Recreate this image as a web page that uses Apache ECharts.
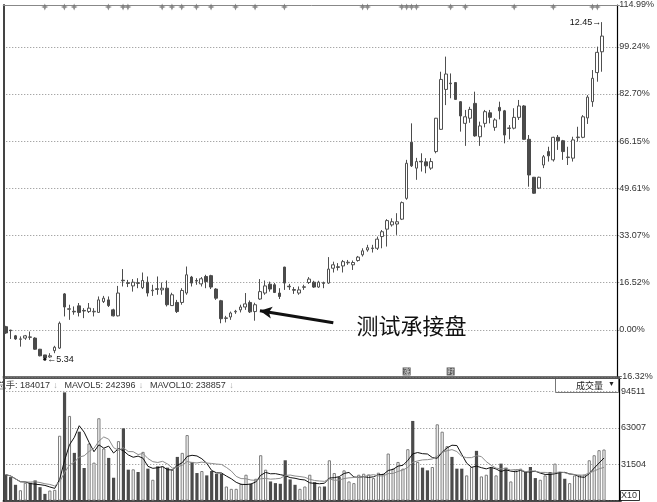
<!DOCTYPE html>
<html><head><meta charset="utf-8">
<script src="https://cdn.jsdelivr.net/npm/echarts@6/dist/echarts.min.js"></script>
<style>html,body{margin:0;padding:0;background:#fff}#c{width:657px;height:502px}</style>
</head><body><div id="c"></div>
<script>
// ---- data (percent change vs. base) ----
const opens  = [1.1,-0.1,-2.1,-3.3,-2.9,-2.5,-2.9,-6.8,-8.8,-9.5,-7.3,-6.4,12.6,7.2,6.5,8.4,6.8,6.4,6.3,6.1,9.9,10.5,7.0,4.9,17.4,16.5,15.4,16.5,14.8,16.7,13.7,14.4,14.0,14.6,8.5,9.6,9.6,12.9,18.5,17.3,16.1,18.7,19.0,14.3,10.2,4.0,4.5,6.3,7.0,8.0,9.6,6.4,10.8,12.9,16.0,15.8,12.9,22.0,15.3,14.1,12.9,14.9,16.6,16.7,15.0,16.5,16.4,21.6,22.1,22.4,23.5,22.8,24.3,26.3,28.0,28.5,28.6,32.7,35.3,36.8,37.1,38.8,46.1,65.8,56.7,59.1,58.9,56.7,62.5,70.3,84.3,86.5,86.7,80.0,72.4,74.2,79.4,67.7,72.4,76.1,71.0,78.0,76.8,70.6,70.7,74.5,78.5,66.8,53.5,49.7,57.8,62.5,59.6,67.5,66.3,60.4,60.2,67.4,67.5,74.3,80.0,90.2,97.5];
const closes = [-1.1,-0.3,-3.2,-3.2,-2.1,-2.6,-6.8,-9.1,-9.9,-9.1,-6.1,2.3,8.0,7.4,6.3,6.1,6.6,7.6,6.5,10.5,11.1,8.5,4.9,12.9,17.2,16.3,16.7,16.3,17.3,12.9,13.9,14.2,14.6,8.8,12.3,6.4,13.8,19.3,16.4,17.1,17.9,16.9,15.0,11.1,3.9,4.2,5.9,6.5,8.0,9.1,6.3,8.8,13.4,15.4,14.3,13.1,11.7,16.4,15.1,13.9,14.0,15.1,17.8,15.0,16.7,16.3,21.3,22.8,21.9,23.9,23.7,23.6,25.5,27.7,28.8,28.7,31.8,34.4,38.3,37.9,37.9,44.6,58.4,57.5,59.0,58.9,57.5,59.0,74.2,87.8,89.7,86.3,80.8,75.0,74.7,77.3,68.0,71.5,76.5,74.5,73.6,76.8,68.3,70.8,74.5,78.5,66.8,54.3,47.9,53.5,60.7,61.0,67.5,66.3,62.5,60.6,66.6,67.6,74.7,81.6,88.2,97.3,103.0];
const lows   = [-1.4,-3.2,-3.5,-5.9,-3.5,-3.5,-7.0,-9.3,-10.3,-9.8,-8.2,-6.7,4.7,3.5,5.3,4.7,4.1,5.9,4.7,6.0,9.4,8.0,4.7,4.7,15.2,15.0,13.4,14.6,14.3,11.7,11.9,12.3,12.3,8.2,8.4,5.9,8.8,12.3,15.2,15.8,15.2,14.6,14.3,10.5,2.3,2.6,3.5,5.6,6.1,7.0,5.9,3.2,10.5,12.3,13.4,12.9,10.8,14.0,14.0,12.6,12.3,14.0,16.1,14.7,14.7,14.6,16.1,20.1,20.8,20.1,22.8,21.0,23.9,25.7,27.4,27.1,28.0,28.6,29.2,36.2,33.3,38.5,45.6,57.1,52.6,55.5,54.9,56.1,61.9,70.1,78.8,81.2,80.6,69.5,64.5,72.6,67.7,64.5,71.0,72.4,69.8,73.8,65.4,66.8,70.3,73.6,66.6,50.2,47.7,49.4,56.7,59.0,59.0,63.1,59.6,57.8,59.0,66.0,67.2,72.2,78.2,87.0,90.5];
const highs  = [1.4,0.0,-1.8,-2.3,-1.8,-0.6,-2.6,-6.7,-8.8,-8.2,-5.6,2.9,12.9,8.8,8.2,9.4,7.6,9.4,7.6,11.7,11.9,11.7,7.4,15.4,21.3,17.5,17.8,18.1,20.1,18.7,15.8,18.7,16.6,17.3,13.0,10.5,14.6,22.2,18.9,18.1,18.5,19.3,19.3,14.6,10.5,4.9,6.4,7.0,8.8,12.9,10.3,9.5,17.8,17.3,16.9,16.4,14.6,22.1,16.1,15.0,15.2,15.8,18.5,17.2,17.2,16.9,25.5,23.9,23.4,24.5,24.5,24.3,25.9,28.6,29.8,29.8,32.7,35.0,38.8,39.1,40.9,45.0,59.6,72.4,60.3,61.9,60.2,60.2,74.3,90.5,95.8,89.9,86.8,80.2,77.1,78.2,83.5,73.0,77.1,77.1,74.2,80.0,77.1,71.8,77.7,80.6,78.8,68.3,53.6,53.7,61.3,64.2,67.7,68.3,66.6,64.2,67.7,71.2,75.3,82.3,91.1,99.3,107.9];
const volumes = [22460,20420,13710,9000,15460,15460,17500,11670,5830,8750,9330,56300,93930,73510,41420,59800,28300,49590,32960,71470,45210,37050,19840,51630,62720,26840,27130,24800,42300,27710,18090,29750,29750,28590,26840,37920,41420,56880,33550,23920,25670,21880,25670,23340,23340,12250,10210,10210,14590,22460,14590,18960,39380,26840,16630,15170,14590,35000,18380,13710,10210,12250,22460,16040,12250,12250,35000,23920,20420,26250,16630,15170,22460,23340,22750,19540,24210,23340,40840,27710,33550,27710,44630,69130,33550,28590,26250,29170,66220,59800,47260,37920,27710,27710,21880,29170,43170,21000,22460,28590,21880,32090,28590,16630,26250,27710,24800,29170,19540,18090,21880,24800,32090,24800,18960,15170,21880,22460,22460,35000,39380,43760,44340];
const priceTickLabels = ['-16.32%','0.00%','16.52%','33.07%','49.61%','66.15%','82.70%','99.24%'];
const priceTopLabel = '114.99%';
const volTickLabels = ['31504','63007','94511'];
const infoMarkerIdx = [8,12,14,21,24,25,32,34,36,39,42,47,51,57,73,74,81,82,83,84,91,94,104,112,120,121];
const tagIdx = [82,91];
const tagText = ['涨','时'];
const highNote = '12.45';
const lowNote = '5.34';
const lowIdx = 8;
const arrowTail = [67, 2.45];
const arrowHead = [52, 6.7];
const noteText = '测试承接盘';
const notePos = [83, 1.4];
const legendParts = ['总手: 184017','MAVOL5: 242396','MAVOL10: 238857'];

// ---- build ----
const N_CAT = 126;
const cats = Array.from({length:N_CAT}, (_,i)=>String(i));
const kData = opens.map((o,i)=>[o, closes[i], lows[i], highs[i]]);
const DARK = '#4b4b4b';
const volData = volumes.map((v,i)=>{
  const up = closes[i] >= opens[i];
  return {value:v, itemStyle: up ? {color:'#fff', borderColor:'#7a7a7a', borderWidth:1} : {color:DARK, borderColor:DARK, borderWidth:0}};
});
function ma(arr,n){return arr.map((_,i)=>{const s=arr.slice(Math.max(0,i-n+1),i+1);return s.reduce((a,b)=>a+b,0)/s.length;});}
const ma5 = ma(volumes,5), ma10 = ma(volumes,10);
const STEP = 16.54;
const VSTEP = 94511/3;
const font = 'Liberation Sans, Arial, sans-serif';

const chart = echarts.init(document.getElementById('c'), null, {renderer:'canvas'});
const option = {
  animation:false,
  backgroundColor:'#fff',
  grid:[
    {left:3.25, top:5, width:617.9, height:372},
    {left:3.25, top:378, width:617.9, height:122.6}
  ],
  xAxis:[
    {type:'category', gridIndex:0, data:cats, boundaryGap:true, axisLabel:{show:false}, axisTick:{show:false}, axisLine:{onZero:false, lineStyle:{color:'#444',width:1.5}}, splitLine:{show:false}},
    {type:'category', gridIndex:0, position:'top', data:cats, axisLabel:{show:false}, axisTick:{show:false}, axisLine:{onZero:false, lineStyle:{color:'#888',width:1}}},
    {type:'category', gridIndex:1, data:cats, boundaryGap:true, axisLabel:{show:false}, axisTick:{show:false}, axisLine:{onZero:false, lineStyle:{color:'#111',width:1.5}}},
    {type:'category', gridIndex:1, position:'top', data:cats, axisLabel:{show:false}, axisTick:{show:false}, axisLine:{onZero:false, lineStyle:{color:'#555',width:1}}}
  ],
  yAxis:[
    {type:'value', gridIndex:0, position:'right', offset:-2.2, min:-STEP, max:113.9, interval:STEP,
     axisLine:{show:true, onZero:false, lineStyle:{color:'#000',width:1.2}}, axisTick:{show:false},
     splitLine:{show:true, lineStyle:{color:'#8a8a8a', type:[1,2], width:1}},
     axisLabel:{margin:2, fontSize:9, fontFamily:font, color:'#333',
       formatter:(v)=>{ if(v>110) return priceTopLabel; const k=Math.round(v/STEP)+1; return priceTickLabels[k]||''; }}},
    {type:'value', gridIndex:0, position:'left', min:-STEP, max:113.9, axisLine:{show:true, onZero:false, lineStyle:{color:'#444',width:2}}, axisLabel:{show:false}, axisTick:{show:false}, splitLine:{show:false}},
    {type:'value', gridIndex:1, position:'right', offset:-2.2, min:0, max:106400, interval:VSTEP,
     axisLine:{show:true, onZero:false, lineStyle:{color:'#000',width:1.2}}, axisTick:{show:false},
     splitLine:{show:true, lineStyle:{color:'#8a8a8a', type:[1,2], width:1}},
     axisLabel:{margin:2, fontSize:9, fontFamily:font, color:'#333', showMaxLabel:false, showMinLabel:false,
       formatter:(v)=>{ const k=Math.round(v/VSTEP); return (k>=1&&k<=3)?volTickLabels[k-1]:''; }}},
    {type:'value', gridIndex:1, position:'left', min:0, max:106400, axisLine:{show:true, onZero:false, lineStyle:{color:'#444',width:2}}, axisLabel:{show:false}, axisTick:{show:false}, splitLine:{show:false}}
  ],
  series:[
    {type:'candlestick', xAxisIndex:0, yAxisIndex:0, data:kData, barWidth:3.2,
     itemStyle:{color:'#fff', color0:DARK, borderColor:'#505050', borderColor0:DARK, borderWidth:1},
     markLine:{silent:true, symbol:['none','arrow'], symbolSize:[9,12], animation:false,
       lineStyle:{color:'#111', width:3, type:'solid'}, label:{show:false},
       data:[[{coord:arrowTail},{coord:arrowHead}]]},
     markPoint:{silent:true, animation:false, data:[
       {coord:notePos, symbol:'circle', symbolSize:0, label:{show:true, position:'inside', formatter:noteText, fontSize:22, fontFamily:'Noto Sans CJK SC', color:'#111'}},
       {coord:[opens.length-1, highs[highs.length-1]], symbol:'circle', symbolSize:0, label:{show:true, position:'left', distance:1, formatter:highNote+'→', fontSize:9, fontFamily:font, color:'#111'}},
       {coord:[lowIdx, lows[lowIdx]], symbol:'circle', symbolSize:3, itemStyle:{color:'#111'}, label:{show:true, position:'right', distance:1, formatter:'←'+lowNote, fontSize:9, fontFamily:font, color:'#111'}}
     ]}},
    {type:'scatter', xAxisIndex:0, yAxisIndex:0, silent:true,
     data:infoMarkerIdx.map(i=>[i,113.2]),
     symbol:'path://M0,-10 L3,-3 L10,0 L3,3 L0,10 L-3,3 L-10,0 L-3,-3 Z', symbolSize:7, itemStyle:{color:'#6f6f6f'}},
    {type:'scatter', xAxisIndex:0, yAxisIndex:0, silent:true,
     data:tagIdx.map((i,k)=>({value:[i,-14.6], label:{formatter:tagText[k]}})),
     symbol:'rect', symbolSize:[8,8], itemStyle:{color:'#333'},
     label:{show:true, position:'inside', fontSize:7, color:'#fff', fontFamily:'Noto Sans CJK SC'}},
    {type:'bar', xAxisIndex:2, yAxisIndex:2, data:volData, barWidth:3.2},
    {type:'line', xAxisIndex:2, yAxisIndex:2, data:ma5, symbol:'none', lineStyle:{color:'#111',width:1}},
    {type:'line', xAxisIndex:2, yAxisIndex:2, data:ma10, symbol:'none', lineStyle:{color:'#8c8c8c',width:1}}
  ],
  graphic:[
    {type:'text', left:-3, top:380, style:{
      text:'{t|'+legendParts[0]+'} {a|↓}  {t|'+legendParts[1]+'} {a|↓}  {t|'+legendParts[2]+'} {a|↓}',
      rich:{t:{fontSize:9, fontFamily:font, fill:'#333'}, a:{fontSize:9, fontFamily:font, fill:'#aaa'}}}},
    {type:'rect', shape:{x:555.5, y:378.5, width:63, height:14}, style:{fill:'#fff', stroke:'#777', lineWidth:1}},
    {type:'text', left:576, top:381, style:{text:'成交量', fontSize:9, fontFamily:'Noto Sans CJK SC', fill:'#222'}},
    {type:'text', left:608, top:381, style:{text:'▼', fontSize:7, fontFamily:font, fill:'#222'}},
    {type:'text', left:621, top:491, style:{text:'X10', fontSize:9, fontFamily:font, fill:'#333', stroke:null}},
    {type:'rect', shape:{x:620.5, y:490.5, width:19, height:10}, style:{fill:'none', stroke:'#333', lineWidth:1}}
  ]
};
chart.setOption(option);
</script>
</body></html>
